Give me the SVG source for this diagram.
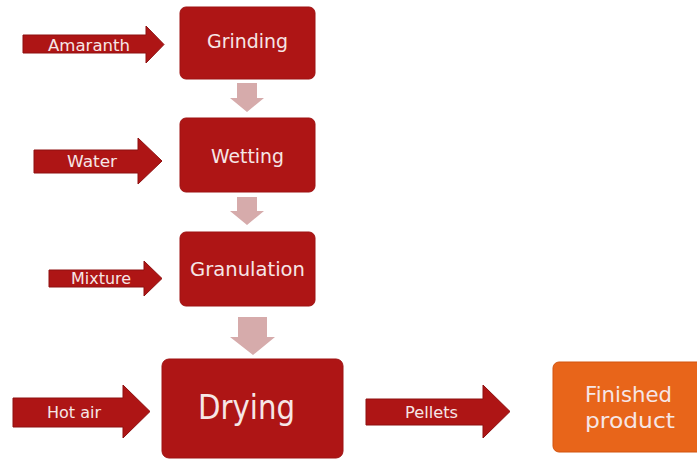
<svg xmlns="http://www.w3.org/2000/svg" width="697" height="459" viewBox="0 0 697 459">
<style>
.box{fill:#AE1515;stroke:#9E1212;stroke-width:1}
.fin{fill:#E8651A;stroke:#D2540F;stroke-width:1}
.in{fill:#AE1515;stroke:#8E1010;stroke-width:1}
.down{fill:#D6ABAB}
.t{font-family:"DejaVu Sans","Liberation Sans",Arial,sans-serif;fill:#F6E6E6;text-anchor:middle}
.s{font-size:16px}
.m{font-size:19px}
</style>
<rect width="697" height="459" fill="#FFFFFF"/>
<g id="connectors">
<polygon class="down" points="237,83 257,83 257,98 264,98 247,112 230,98 237,98"/>
<polygon class="down" points="237,197 257,197 257,211 264,211 247,225 230,211 237,211"/>
<polygon class="down" points="238,317 267,317 267,337 275,337 253,355 230,337 238,337"/>
</g>
<g id="amaranth">
<polygon class="in" points="23,35 146,35 146,26 164,44.5 146,63 146,53 23,53"/>
<text class="t s" x="89" y="51" textLength="82" lengthAdjust="spacingAndGlyphs">Amaranth</text>
</g>
<g id="water">
<polygon class="in" points="34,150 138,150 138,138 162,161 138,184 138,173 34,173"/>
<text class="t s" x="92" y="167" textLength="50" lengthAdjust="spacingAndGlyphs">Water</text>
</g>
<g id="mixture">
<polygon class="in" points="49,270 144,270 144,261 162,278.5 144,296 144,287 49,287"/>
<text class="t s" x="101" y="284" textLength="60" lengthAdjust="spacingAndGlyphs">Mixture</text>
</g>
<g id="hotair">
<polygon class="in" points="13,398 123,398 123,385 150,411.5 123,438 123,427 13,427"/>
<text class="t s" x="74" y="418" textLength="54" lengthAdjust="spacingAndGlyphs">Hot air</text>
</g>
<g id="pellets">
<polygon class="in" points="366,399 483,399 483,385 510,411.5 483,438 483,425 366,425"/>
<text class="t s" x="431.5" y="418" textLength="53" lengthAdjust="spacingAndGlyphs">Pellets</text>
</g>
<g id="grinding">
<rect class="box" x="180" y="7" width="135" height="72" rx="6"/>
<text class="t m" x="247.5" y="48" textLength="81" lengthAdjust="spacingAndGlyphs">Grinding</text>
</g>
<g id="wetting">
<rect class="box" x="180" y="118" width="135" height="74" rx="6"/>
<text class="t m" x="247.5" y="163" textLength="73" lengthAdjust="spacingAndGlyphs">Wetting</text>
</g>
<g id="granulation">
<rect class="box" x="180" y="232" width="135" height="74" rx="6"/>
<text class="t m" x="247.5" y="276" textLength="115" lengthAdjust="spacingAndGlyphs">Granulation</text>
</g>
<g id="drying">
<rect class="box" x="162" y="359" width="181" height="99" rx="7"/>
<text class="t" x="246.5" y="419" font-size="33" textLength="97" lengthAdjust="spacingAndGlyphs">Drying</text>
</g>
<g id="finished">
<rect class="fin" x="553" y="362" width="150" height="90" rx="6"/>
<text class="t" x="628.5" y="402" font-size="21" textLength="87" lengthAdjust="spacingAndGlyphs">Finished</text>
<text class="t" x="630" y="428" font-size="21" textLength="90" lengthAdjust="spacingAndGlyphs">product</text>
</g>
</svg>
